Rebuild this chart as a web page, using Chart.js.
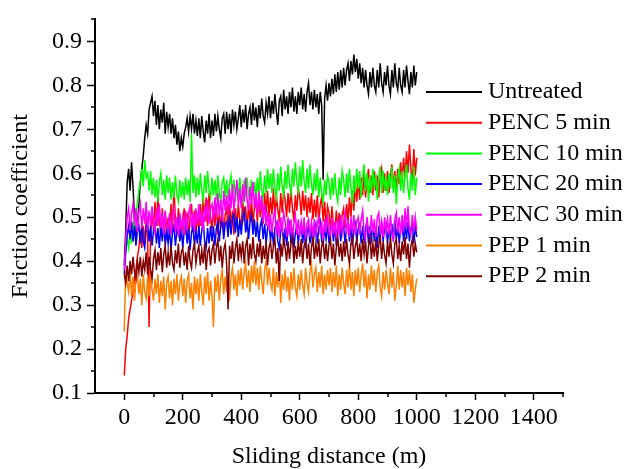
<!DOCTYPE html>
<html>
<head>
<meta charset="utf-8">
<script src="https://cdn.jsdelivr.net/npm/chart.js@4.4.1/dist/chart.umd.min.js"></script>
<style>
  html, body { margin: 0; padding: 0; background: #fff; }
  canvas { display: block; }
</style>
</head>
<body>
<canvas id="c" width="630" height="469"></canvas>
<script>
// ---------------- DATA ----------------
// sampling grid of the sliding distance (m), every 5 m from 0 to 1000
const distance = Array.from({length: 201}, (_, i) => i * 5);

const seriesNames = ['Untreated', 'PENC 5 min', 'PENC 10 min', 'PENC 20 min', 'PENC 30 min', 'PEP 1 min', 'PEP 2 min'];
const seriesColors = ['#000000', '#ff0000', '#00ff00', '#0000ff', '#ff00ff', '#ff8000', '#800000'];

const untreated = [
  .39,.47,.58,.61,.56,.625,.57,.50,.45,.48,
  .53,.58,.61,.64,.68,.71,.69,.745,.76,.775,
  .73,.765,.71,.755,.70,.745,.715,.76,.69,.74,
  .705,.735,.69,.725,.68,.71,.665,.695,.65,.68,
  .66,.69,.705,.725,.695,.73,.70,.735,.69,.72,
  .685,.725,.68,.73,.695,.67,.72,.69,.735,.68,
  .72,.685,.735,.695,.73,.70,.68,.725,.735,.69,
  .74,.70,.735,.69,.745,.71,.74,.70,.725,.755,
  .705,.745,.715,.755,.70,.735,.75,.71,.76,.72,
  .75,.705,.755,.725,.77,.73,.715,.76,.735,.775,
  .725,.765,.735,.78,.74,.71,.765,.775,.73,.79,
  .745,.775,.735,.785,.75,.795,.74,.775,.735,.785,
  .755,.795,.745,.78,.74,.785,.805,.755,.785,.745,
  .79,.75,.78,.735,.785,.755,.585,.77,.80,.765,
  .805,.775,.815,.78,.825,.785,.83,.79,.835,.795,
  .84,.80,.835,.85,.81,.855,.825,.87,.83,.86,
  .815,.85,.805,.84,.795,.835,.80,.78,.83,.795,
  .84,.80,.785,.835,.795,.85,.805,.785,.83,.80,
  .845,.80,.78,.835,.795,.85,.805,.79,.84,.80,
  .785,.835,.795,.845,.81,.78,.83,.795,.845,.80,
  .83
];
const penc5 = [
  .14,.20,.23,.27,.29,.31,.33,.36,.38,.41,
  .43,.47,.43,.48,.44,.50,.45,.25,.46,.51,
  .47,.535,.48,.545,.495,.46,.52,.47,.51,.45,
  .50,.46,.53,.47,.57,.49,.46,.52,.48,.45,
  .49,.52,.46,.51,.45,.50,.53,.47,.515,.46,
  .51,.47,.53,.48,.55,.49,.545,.48,.555,.50,
  .47,.525,.48,.53,.46,.51,.475,.52,.46,.505,
  .52,.47,.53,.485,.515,.46,.52,.48,.53,.49,
  .48,.54,.49,.525,.47,.53,.49,.545,.48,.52,
  .535,.49,.55,.50,.54,.485,.555,.51,.56,.50,
  .545,.505,.565,.50,.55,.515,.495,.555,.51,.56,
  .54,.50,.555,.51,.565,.52,.49,.55,.515,.565,
  .545,.505,.56,.515,.55,.50,.545,.51,.555,.495,
  .54,.50,.55,.485,.53,.545,.49,.535,.48,.525,
  .51,.47,.525,.48,.465,.515,.475,.51,.46,.505,
  .52,.475,.53,.49,.545,.50,.56,.515,.58,.535,
  .585,.54,.59,.55,.60,.545,.585,.61,.555,.595,
  .55,.605,.56,.595,.545,.59,.61,.555,.60,.56,
  .605,.555,.595,.62,.565,.605,.56,.61,.575,.625,
  .58,.635,.59,.65,.60,.665,.61,.58,.655,.595,
  .635
];
const penc10 = [
  .40,.42,.45,.43,.47,.44,.49,.46,.51,.53,
  .56,.58,.61,.57,.63,.59,.60,.56,.605,.55,
  .59,.545,.585,.535,.58,.60,.55,.585,.54,.595,
  .555,.59,.54,.58,.545,.595,.55,.535,.585,.545,
  .58,.54,.59,.55,.585,.535,.69,.555,.595,.545,
  .59,.55,.60,.56,.54,.595,.555,.605,.56,.545,
  .59,.55,.585,.54,.595,.555,.535,.58,.59,.545,
  .585,.54,.575,.595,.55,.585,.535,.58,.545,.59,
  .55,.535,.585,.545,.59,.55,.54,.585,.545,.58,
  .54,.59,.55,.605,.56,.545,.595,.555,.61,.565,
  .60,.555,.61,.565,.545,.60,.56,.615,.57,.55,
  .605,.565,.62,.575,.555,.61,.57,.625,.58,.56,
  .615,.57,.63,.58,.555,.61,.565,.62,.575,.55,
  .60,.56,.61,.545,.59,.555,.535,.585,.55,.595,
  .58,.54,.59,.55,.60,.555,.535,.59,.55,.605,
  .585,.545,.60,.555,.61,.57,.53,.595,.555,.61,
  .565,.605,.545,.59,.62,.56,.60,.535,.595,.555,
  .61,.565,.60,.54,.59,.615,.555,.605,.56,.595,
  .55,.60,.565,.615,.555,.595,.53,.59,.61,.56,
  .605,.555,.595,.62,.565,.54,.60,.56,.615,.55,
  .59
];
const penc20 = [
  .37,.42,.46,.48,.45,.49,.445,.48,.435,.47,
  .48,.44,.485,.445,.43,.475,.49,.445,.48,.435,
  .47,.485,.44,.475,.43,.48,.445,.49,.435,.47,
  .44,.475,.425,.465,.48,.435,.47,.49,.445,.475,
  .43,.47,.485,.44,.475,.425,.465,.48,.435,.47,
  .44,.48,.435,.47,.49,.445,.43,.475,.44,.48,
  .445,.48,.435,.475,.49,.445,.48,.50,.45,.485,
  .49,.455,.505,.46,.495,.51,.465,.50,.455,.495,
  .46,.50,.515,.465,.495,.45,.49,.505,.46,.495,
  .455,.49,.445,.48,.495,.45,.485,.44,.475,.49,
  .445,.48,.435,.475,.485,.445,.43,.47,.48,.44,
  .475,.435,.47,.485,.44,.475,.43,.465,.48,.44,
  .47,.485,.44,.475,.43,.465,.48,.44,.475,.435,
  .47,.485,.44,.475,.49,.445,.435,.48,.45,.485,
  .44,.475,.485,.445,.48,.435,.47,.485,.445,.475,
  .48,.44,.475,.49,.445,.48,.435,.47,.485,.445,
  .475,.485,.44,.48,.445,.475,.49,.44,.48,.45,
  .485,.445,.475,.43,.48,.45,.49,.445,.475,.485,
  .44,.48,.45,.485,.445,.495,.45,.48,.44,.475,
  .485,.445,.48,.45,.49,.445,.475,.485,.44,.48,
  .455
];
const penc30 = [
  .38,.45,.50,.52,.47,.51,.53,.48,.52,.465,
  .51,.53,.475,.52,.485,.535,.47,.515,.48,.525,
  .485,.465,.52,.48,.53,.475,.51,.46,.515,.48,
  .47,.51,.46,.505,.52,.465,.50,.455,.51,.475,
  .50,.46,.515,.47,.51,.525,.475,.51,.465,.52,
  .485,.53,.48,.515,.47,.525,.49,.54,.485,.52,
  .53,.49,.545,.50,.555,.505,.54,.49,.56,.515,
  .55,.505,.565,.52,.575,.51,.555,.585,.525,.565,
  .52,.575,.535,.59,.54,.515,.57,.53,.58,.52,
  .555,.505,.56,.515,.55,.49,.53,.48,.515,.47,
  .505,.465,.50,.515,.46,.495,.455,.50,.465,.51,
  .49,.455,.50,.46,.495,.45,.485,.505,.46,.495,
  .455,.49,.46,.50,.45,.485,.495,.455,.49,.46,
  .495,.455,.485,.50,.46,.49,.45,.495,.465,.505,
  .465,.455,.50,.46,.49,.45,.495,.46,.505,.465,
  .49,.51,.46,.495,.455,.50,.465,.505,.46,.49,
  .50,.46,.495,.515,.465,.45,.50,.47,.46,.505,
  .465,.495,.455,.50,.51,.46,.49,.455,.50,.465,
  .495,.46,.505,.465,.45,.495,.51,.465,.50,.46,
  .505,.465,.52,.475,.525,.47,.46,.505,.465,.50,
  .47
];
const pep1 = [
  .24,.38,.35,.33,.38,.32,.365,.31,.355,.37,
  .325,.36,.30,.37,.33,.315,.365,.32,.38,.335,
  .31,.36,.325,.37,.305,.355,.32,.365,.29,.35,
  .365,.315,.355,.30,.36,.325,.37,.31,.35,.365,
  .32,.36,.305,.355,.37,.315,.35,.29,.365,.325,
  .36,.31,.37,.33,.30,.365,.325,.375,.31,.355,
  .32,.25,.365,.33,.37,.31,.36,.38,.325,.365,
  .33,.375,.31,.365,.385,.335,.37,.32,.38,.345,
  .385,.335,.375,.395,.34,.38,.33,.39,.35,.40,
  .345,.385,.335,.39,.355,.325,.38,.40,.345,.385,
  .35,.335,.385,.32,.375,.34,.39,.305,.37,.335,
  .38,.33,.365,.31,.375,.335,.385,.34,.32,.37,
  .335,.38,.345,.325,.385,.35,.33,.375,.395,.34,
  .37,.385,.33,.375,.34,.39,.325,.37,.335,.38,
  .345,.385,.33,.375,.34,.39,.32,.37,.335,.385,
  .35,.325,.38,.34,.395,.335,.375,.32,.38,.345,
  .385,.33,.37,.395,.34,.38,.315,.37,.335,.39,
  .345,.38,.33,.375,.39,.34,.32,.375,.335,.38,
  .35,.325,.385,.34,.375,.31,.345,.39,.335,.38,
  .34,.375,.32,.385,.345,.38,.33,.37,.305,.335,
  .36
];
const pep2 = [
  .37,.35,.39,.355,.40,.37,.41,.375,.36,.40,
  .375,.41,.365,.40,.38,.42,.37,.41,.38,.36,
  .405,.425,.38,.42,.39,.43,.375,.415,.435,.385,
  .42,.39,.435,.395,.38,.425,.395,.44,.385,.42,
  .43,.39,.42,.38,.435,.40,.385,.425,.44,.395,
  .42,.435,.39,.425,.395,.44,.38,.42,.43,.39,
  .425,.44,.395,.43,.45,.40,.435,.385,.425,.44,
  .395,.29,.435,.405,.445,.395,.43,.45,.40,.44,
  .41,.445,.395,.435,.45,.39,.44,.405,.455,.415,
  .40,.44,.41,.45,.395,.435,.405,.445,.39,.43,
  .445,.405,.435,.45,.395,.43,.355,.44,.41,.45,
  .43,.40,.445,.405,.44,.455,.395,.435,.405,.445,
  .41,.45,.395,.435,.445,.405,.44,.39,.43,.455,
  .405,.44,.41,.45,.395,.435,.445,.405,.44,.40,
  .435,.45,.405,.44,.39,.43,.455,.41,.44,.40,
  .445,.41,.45,.415,.395,.44,.455,.405,.435,.45,
  .41,.44,.40,.45,.415,.445,.395,.435,.455,.405,
  .44,.41,.45,.40,.435,.46,.405,.445,.415,.395,
  .445,.41,.455,.415,.395,.44,.45,.405,.435,.40,
  .445,.415,.455,.405,.44,.385,.435,.45,.41,.44,
  .42
];

// axis ticks
const xTicks = [0, 200, 400, 600, 800, 1000, 1200, 1400];
const xMinorTicks = [100, 300, 500, 700, 900, 1100, 1300, 1500];
const yTicks = [0.1, 0.2, 0.3, 0.4, 0.5, 0.6, 0.7, 0.8, 0.9];
const yMinorTicks = [0.15, 0.25, 0.35, 0.45, 0.55, 0.65, 0.75, 0.85, 0.95];

// ---------------- CHART ----------------
const FONT = '"Liberation Serif", "Times New Roman", Times, serif';
const allSeries = [untreated, penc5, penc10, penc20, penc30, pep1, pep2];

const datasets = allSeries.map((vals, k) => ({
  label: seriesNames[k],
  data: vals.map((v, i) => ({x: distance[i], y: v})),
  borderColor: seriesColors[k],
  backgroundColor: seriesColors[k],
  borderWidth: 1.5,
  pointRadius: 0,
  tension: 0,
  fill: false,
  order: allSeries.length - k   // later series drawn on top (like Origin)
}));

const minorTicksAndLegend = {
  id: 'minorTicksAndLegend',
  afterDraw(chart) {
    const ctx = chart.ctx;
    const xs = chart.scales.x, ys = chart.scales.y;
    const area = chart.chartArea;
    ctx.save();
    ctx.strokeStyle = '#000';
    ctx.lineWidth = 1.5;
    ctx.beginPath();
    xMinorTicks.forEach(v => {
      const px = Math.round(xs.getPixelForValue(v));
      ctx.moveTo(px, area.bottom);
      ctx.lineTo(px, area.bottom + 4);
    });
    yMinorTicks.forEach(v => {
      const py = Math.round(ys.getPixelForValue(v));
      ctx.moveTo(area.left, py);
      ctx.lineTo(area.left - 4, py);
    });
    ctx.stroke();

    // legend
    const lx0 = 426, lx1 = 482, tx = 488, y0 = 92, dy = 30.7;
    ctx.font = '24px ' + FONT;
    ctx.textBaseline = 'middle';
    ctx.textAlign = 'left';
    seriesNames.forEach((name, k) => {
      const y = y0 + k * dy;
      ctx.strokeStyle = seriesColors[k];
      ctx.lineWidth = 2;
      ctx.beginPath();
      ctx.moveTo(lx0, y);
      ctx.lineTo(lx1, y);
      ctx.stroke();
      ctx.fillStyle = '#000';
      ctx.fillText(name, tx, y);
    });
    ctx.restore();
  }
};

const chart = new Chart(document.getElementById('c'), {
  type: 'line',
  data: { datasets },
  options: {
    responsive: false,
    animation: false,
    devicePixelRatio: 1,
    layout: { padding: { left: 0, right: 67, top: 16, bottom: 0 } },
    plugins: { legend: { display: false }, tooltip: { enabled: false } },
    scales: {
      x: {
        type: 'linear',
        min: -100, max: 1500,
        afterBuildTicks: s => { s.ticks = xTicks.map(v => ({ value: v })); },
        afterFit: s => { s.height = 76; },
        border: { display: true, color: '#000', width: 2 },
        grid: { drawOnChartArea: false, drawTicks: true, tickLength: 7, tickColor: '#000', tickWidth: 1.5 },
        ticks: {
          color: '#000', font: { family: FONT, size: 24 }, padding: 3,
          maxRotation: 0, autoSkip: false,
          callback: v => String(v)
        },
        title: {
          display: true, text: 'Sliding distance (m)', color: '#000',
          font: { family: FONT, size: 24, lineHeight: 1 }, padding: { top: 0, bottom: 0 }
        }
      },
      y: {
        min: 0.1, max: 0.95,
        afterBuildTicks: s => { s.ticks = yTicks.map(v => ({ value: v })); },
        afterFit: s => { s.width = 95; },
        border: { display: true, color: '#000', width: 2 },
        grid: { drawOnChartArea: false, drawTicks: true, tickLength: 8, tickColor: '#000', tickWidth: 1.5 },
        ticks: {
          color: '#000', font: { family: FONT, size: 24 }, padding: 5,
          callback: v => Number(v).toFixed(1)
        },
        title: {
          display: true, text: 'Friction coefficient', color: '#000',
          font: { family: FONT, size: 24 }, padding: { top: 6, bottom: 0 }
        }
      }
    }
  },
  plugins: [minorTicksAndLegend]
});
</script>
</body>
</html>
